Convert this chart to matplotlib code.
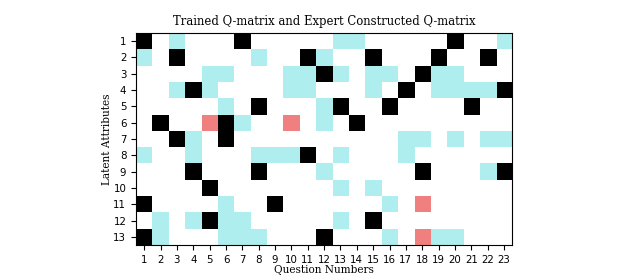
import numpy as np
import matplotlib
matplotlib.use("Agg")
from matplotlib import pyplot as plt
from matplotlib.colors import ListedColormap

# 0 = empty, 1 = expert only (cyan), 2 = both (black), 3 = trained only (red)
questions = list(range(1, 24))
attributes = list(range(1, 14))

row1 = [2, 0, 1, 0, 0, 0, 2, 0, 0, 0, 0, 0, 1, 1, 0, 0, 0, 0, 0, 2, 0, 0, 1]
row2 = [1, 0, 2, 0, 0, 0, 0, 1, 0, 0, 2, 1, 0, 0, 2, 0, 0, 0, 2, 0, 0, 2, 0]
row3 = [0, 0, 0, 0, 1, 1, 0, 0, 0, 1, 1, 2, 1, 0, 1, 1, 0, 2, 1, 1, 0, 0, 0]
row4 = [0, 0, 1, 2, 1, 0, 0, 0, 0, 1, 1, 0, 0, 0, 1, 0, 2, 0, 1, 1, 1, 1, 2]
row5 = [0, 0, 0, 0, 0, 1, 0, 2, 0, 0, 0, 1, 2, 0, 0, 2, 0, 0, 0, 0, 2, 0, 0]
row6 = [0, 2, 0, 0, 3, 2, 1, 0, 0, 3, 0, 1, 0, 2, 0, 0, 0, 0, 0, 0, 0, 0, 0]
row7 = [0, 0, 2, 1, 0, 2, 0, 0, 0, 0, 0, 0, 0, 0, 0, 0, 1, 1, 0, 1, 0, 1, 1]
row8 = [1, 0, 0, 1, 0, 0, 0, 1, 1, 1, 2, 0, 1, 0, 0, 0, 1, 0, 0, 0, 0, 0, 0]
row9 = [0, 0, 0, 2, 0, 0, 0, 2, 0, 0, 0, 1, 0, 0, 0, 0, 0, 2, 0, 0, 0, 1, 2]
row10 = [0, 0, 0, 0, 2, 0, 0, 0, 0, 0, 0, 0, 1, 0, 1, 0, 0, 0, 0, 0, 0, 0, 0]
row11 = [2, 0, 0, 0, 0, 1, 0, 0, 2, 0, 0, 0, 0, 0, 0, 1, 0, 3, 0, 0, 0, 0, 0]
row12 = [0, 1, 0, 1, 2, 1, 1, 0, 0, 0, 0, 0, 1, 0, 2, 0, 0, 0, 0, 0, 0, 0, 0]
row13 = [2, 1, 0, 0, 0, 1, 1, 1, 0, 0, 0, 2, 0, 0, 0, 1, 0, 3, 1, 1, 0, 0, 0]

qmatrix = np.array([row1, row2, row3, row4, row5, row6, row7,
                    row8, row9, row10, row11, row12, row13])

cmap = ListedColormap(["white", "#afeeee", "black", "#f08080"])

fig = plt.figure(figsize=(6.3, 2.8), dpi=100)
ax = fig.add_axes([0.216, 0.125, 0.597, 0.757])
ax.imshow(qmatrix, cmap=cmap, vmin=-0.5, vmax=3.5, aspect="auto",
          interpolation="nearest")

ax.set_xticks(range(len(questions)))
ax.set_xticklabels(questions, fontsize=7.4)
ax.set_yticks(range(len(attributes)))
ax.set_yticklabels(attributes, fontsize=7.4)

ax.set_title("Trained Q-matrix and Expert Constructed Q-matrix",
             family="DejaVu Serif", fontsize=8.4)
ax.set_xlabel("Question Numbers", family="DejaVu Serif", fontsize=7.6, labelpad=0)
ax.set_ylabel("Latent Attributes", family="DejaVu Serif", fontsize=7.6, labelpad=1)

fig.savefig("out.png", dpi=100)
